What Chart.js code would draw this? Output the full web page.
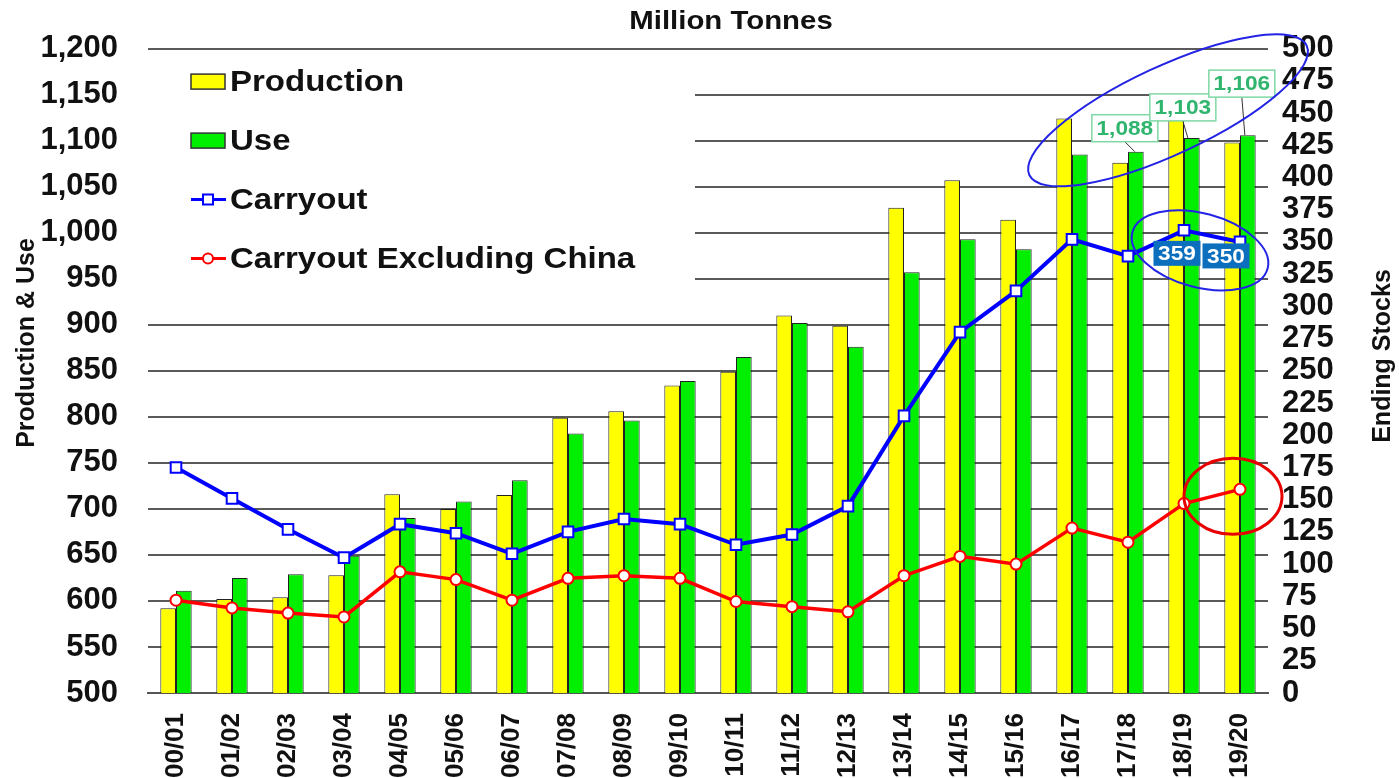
<!DOCTYPE html>
<html>
<head>
<meta charset="utf-8">
<script src="https://cdn.jsdelivr.net/npm/chart.js@4/dist/chart.umd.min.js"></script>
<style>
  html, body { margin: 0; padding: 0; background: #ffffff; }
  #wrap { position: relative; width: 1399px; height: 778px; }
</style>
</head>
<body>
<div id="wrap"><canvas id="chart"></canvas></div>
<script>
// ---- data (million tonnes) ----
const categories = ['00/01', '01/02', '02/03', '03/04', '04/05', '05/06', '06/07', '07/08', '08/09', '09/10',
  '10/11', '11/12', '12/13', '13/14', '14/15', '15/16', '16/17', '17/18', '18/19', '19/20'];
const production = [592, 602, 604, 628, 716, 700, 715, 799, 806, 834, 849, 910, 899, 1027, 1057, 1014, 1124, 1076, 1123, 1098];
const use = [611, 625, 629, 649, 690, 708, 731, 782, 796, 839, 865, 902, 876, 957, 993, 982, 1085, 1088, 1103, 1106];
const carryout = [175, 151, 127, 105, 131, 124, 108, 125, 135, 131, 115, 123, 145, 215, 280, 312, 352, 339, 359, 350];
const carryoutExChina = [72, 66, 62, 59, 94, 88, 72, 89, 91, 89, 71, 67, 63, 91, 106, 100, 128, 117, 147, 158];

const leftTicks = { min: 500, max: 1200, step: 50 };
const rightTicks = { min: 0, max: 500, step: 25 };

// highlighted values (index into categories)
const useCallouts = [17, 18, 19];
const carryCallouts = [18, 19];

const FONT = 'Arial, "Liberation Sans", sans-serif';
const fmt = (v) => Number(v).toLocaleString('en-US');

// text drawn slightly wide, like the source image
function wideText(ctx, text, x, y, sx) {
  ctx.save();
  ctx.translate(x, y);
  ctx.scale(sx, 1);
  ctx.fillText(text, 0, 0);
  ctx.restore();
}

// White legend panel + legend entries, drawn over the grid but under the bars
const legendPlugin = {
  id: 'legendPanel',
  beforeDatasetsDraw(chart) {
    const { ctx, chartArea } = chart;
    ctx.save();
    ctx.fillStyle = '#ffffff';
    ctx.fillRect(chartArea.left, chartArea.top + 3, 547, 250);

    const items = [
      { label: 'Production', type: 'box', color: '#ffff00' },
      { label: 'Use', type: 'box', color: '#00ee00' },
      { label: 'Carryout', type: 'rect', color: '#0000ff' },
      { label: 'Carryout Excluding China', type: 'circle', color: '#ff0000' }
    ];
    const x0 = chartArea.left + 43;
    items.forEach((it, i) => {
      const y = chartArea.top + 33 + i * 59;
      if (it.type === 'box') {
        ctx.fillStyle = it.color;
        ctx.fillRect(x0, y - 7.5, 34, 15);
        ctx.strokeStyle = '#333333';
        ctx.lineWidth = 1.5;
        ctx.strokeRect(x0, y - 7.5, 34, 15);
      } else {
        ctx.strokeStyle = it.color;
        ctx.lineWidth = 3;
        ctx.beginPath();
        ctx.moveTo(x0, y);
        ctx.lineTo(x0 + 35, y);
        ctx.stroke();
        ctx.fillStyle = '#ffffff';
        ctx.lineWidth = 2;
        ctx.beginPath();
        if (it.type === 'rect') ctx.rect(x0 + 12, y - 5, 10, 10);
        else ctx.arc(x0 + 17, y, 5, 0, Math.PI * 2);
        ctx.fill();
        ctx.stroke();
      }
      ctx.fillStyle = '#111111';
      ctx.font = 'bold 30px ' + FONT;
      ctx.textAlign = 'left';
      ctx.textBaseline = 'middle';
      wideText(ctx, it.label, x0 + 39, y + 1, 1.1);
    });
    ctx.restore();
  }
};

// Titles, callout labels and highlight ellipses
const annotatePlugin = {
  id: 'annotate',
  afterDraw(chart) {
    const { ctx } = chart;
    const x = chart.scales.x;
    const yR = chart.scales.y1;
    const useMeta = chart.getDatasetMeta(1);
    ctx.save();

    // chart title
    ctx.fillStyle = '#111111';
    ctx.font = 'bold 26px ' + FONT;
    ctx.textAlign = 'center';
    ctx.textBaseline = 'middle';
    wideText(ctx, 'Million Tonnes', 731, 22, 1.13);

    // axis titles (both read bottom to top)
    ctx.save();
    ctx.translate(27, 343);
    ctx.rotate(-Math.PI / 2);
    ctx.font = 'bold 25px ' + FONT;
    ctx.fillText('Production & Use', 0, 0);
    ctx.restore();
    ctx.save();
    ctx.translate(1383, 356);
    ctx.rotate(-Math.PI / 2);
    ctx.font = 'bold 25px ' + FONT;
    ctx.fillText('Ending Stocks', 0, 0);
    ctx.restore();

    // green "Use" callouts
    const boxLift = [10, 17, 38];
    const boxShift = [-11, -9, -6];
    const leadShift = [-9, -12, -11];
    ctx.font = 'bold 21px ' + FONT;
    useCallouts.forEach((idx, k) => {
      const bar = useMeta.data[idx];
      const cx = bar.x + boxShift[k];
      const bottom = bar.y - boxLift[k];
      const w = 66, h = 27;
      ctx.strokeStyle = '#333333';
      ctx.lineWidth = 1;
      ctx.beginPath();
      ctx.moveTo(cx, bottom);
      ctx.lineTo(bar.x + leadShift[k] + 8, bar.y);
      ctx.stroke();
      ctx.fillStyle = '#ffffff';
      ctx.fillRect(cx - w / 2, bottom - h, w, h);
      ctx.strokeStyle = '#7fd8a4';
      ctx.lineWidth = 1.5;
      ctx.strokeRect(cx - w / 2, bottom - h, w, h);
      ctx.fillStyle = '#2fb56e';
      ctx.textAlign = 'center';
      wideText(ctx, fmt(use[idx]), cx, bottom - h / 2 + 1, 1.08);
    });

    // blue carryout callouts
    const carryShift = [[-7, 23], [-14, 14]];
    ctx.font = 'bold 21px ' + FONT;
    carryCallouts.forEach((idx, k) => {
      const px = x.getPixelForValue(idx) + carryShift[k][0];
      const py = yR.getPixelForValue(carryout[idx]) + carryShift[k][1];
      const w = 47, h = 25;
      ctx.fillStyle = '#0b6fbd';
      ctx.fillRect(px - w / 2, py - h / 2, w, h);
      ctx.fillStyle = '#ffffff';
      ctx.textAlign = 'center';
      wideText(ctx, String(carryout[idx]), px, py + 1, 1.08);
    });

    // highlight ellipses
    const xb = x.getPixelForValue(18), xc = x.getPixelForValue(19);
    ctx.lineWidth = 2;
    ctx.strokeStyle = '#2323e6';
    ctx.beginPath();
    ctx.ellipse(xb - 16, yR.getPixelForValue(carryout[18]) - 120, 153, 44, -25 * Math.PI / 180, 0, Math.PI * 2);
    ctx.stroke();
    ctx.beginPath();
    ctx.ellipse((xb + xc) / 2 - 12, yR.getPixelForValue(carryout[18]) + 20, 70, 37, 15 * Math.PI / 180, 0, Math.PI * 2);
    ctx.stroke();
    ctx.lineWidth = 3;
    ctx.strokeStyle = '#e60000';
    ctx.beginPath();
    ctx.ellipse(xc - 7, yR.getPixelForValue(carryoutExChina[19]) + 7, 49, 38, 0, 0, Math.PI * 2);
    ctx.stroke();

    ctx.restore();
  }
};

new Chart(document.getElementById('chart'), {
  data: {
    labels: categories,
    datasets: [
      {
        type: 'bar', label: 'Production', data: production, yAxisID: 'y',
        backgroundColor: '#ffff00', borderColor: '#222222', borderWidth: 1,
        categoryPercentage: 0.56, barPercentage: 1.0, order: 2
      },
      {
        type: 'bar', label: 'Use', data: use, yAxisID: 'y',
        backgroundColor: '#00ee00', borderColor: '#222222', borderWidth: 1,
        categoryPercentage: 0.56, barPercentage: 1.0, order: 2
      },
      {
        type: 'line', label: 'Carryout', data: carryout, yAxisID: 'y1',
        borderColor: '#0000ff', borderWidth: 4, tension: 0,
        pointStyle: 'rect', pointRadius: 7.5, pointBackgroundColor: '#ffffff',
        pointBorderColor: '#0000ff', pointBorderWidth: 2, order: 1
      },
      {
        type: 'line', label: 'Carryout Excluding China', data: carryoutExChina, yAxisID: 'y1',
        borderColor: '#ff0000', borderWidth: 3.5, tension: 0,
        pointStyle: 'circle', pointRadius: 5.5, pointBackgroundColor: '#ffffff',
        pointBorderColor: '#ff0000', pointBorderWidth: 2, order: 0
      }
    ]
  },
  options: {
    responsive: true,
    maintainAspectRatio: false,
    animation: false,
    layout: { padding: { top: 47, left: 0, right: 0, bottom: 0 } },
    plugins: {
      legend: { display: false },
      tooltip: { enabled: false },
      title: { display: false }
    },
    scales: {
      x: {
        grid: { display: false },
        border: { display: true, color: '#555555', width: 2 },
        ticks: {
          color: '#111111', autoSkip: false, minRotation: 90, maxRotation: 90, padding: 12,
          font: { family: FONT, size: 26, weight: 'bold' }
        },
        afterFit: (s) => { s.height = 85; }
      },
      y: {
        position: 'left',
        min: leftTicks.min, max: leftTicks.max,
        grid: { color: '#5a5a5a', lineWidth: 2, drawTicks: false },
        border: { display: false },
        ticks: {
          stepSize: leftTicks.step, padding: 30, color: '#111111', autoSkip: false,
          font: { family: FONT, size: 31, weight: 'bold' },
          callback: (v) => fmt(v)
        },
        afterFit: (s) => { s.width = 148; }
      },
      y1: {
        position: 'right',
        min: rightTicks.min, max: rightTicks.max,
        grid: { display: false, drawTicks: false },
        border: { display: false },
        ticks: {
          stepSize: rightTicks.step, padding: 14, color: '#111111', autoSkip: false,
          font: { family: FONT, size: 31, weight: 'bold' }
        },
        afterFit: (s) => { s.width = 131; }
      }
    }
  },
  plugins: [legendPlugin, annotatePlugin]
});
</script>
</body>
</html>
